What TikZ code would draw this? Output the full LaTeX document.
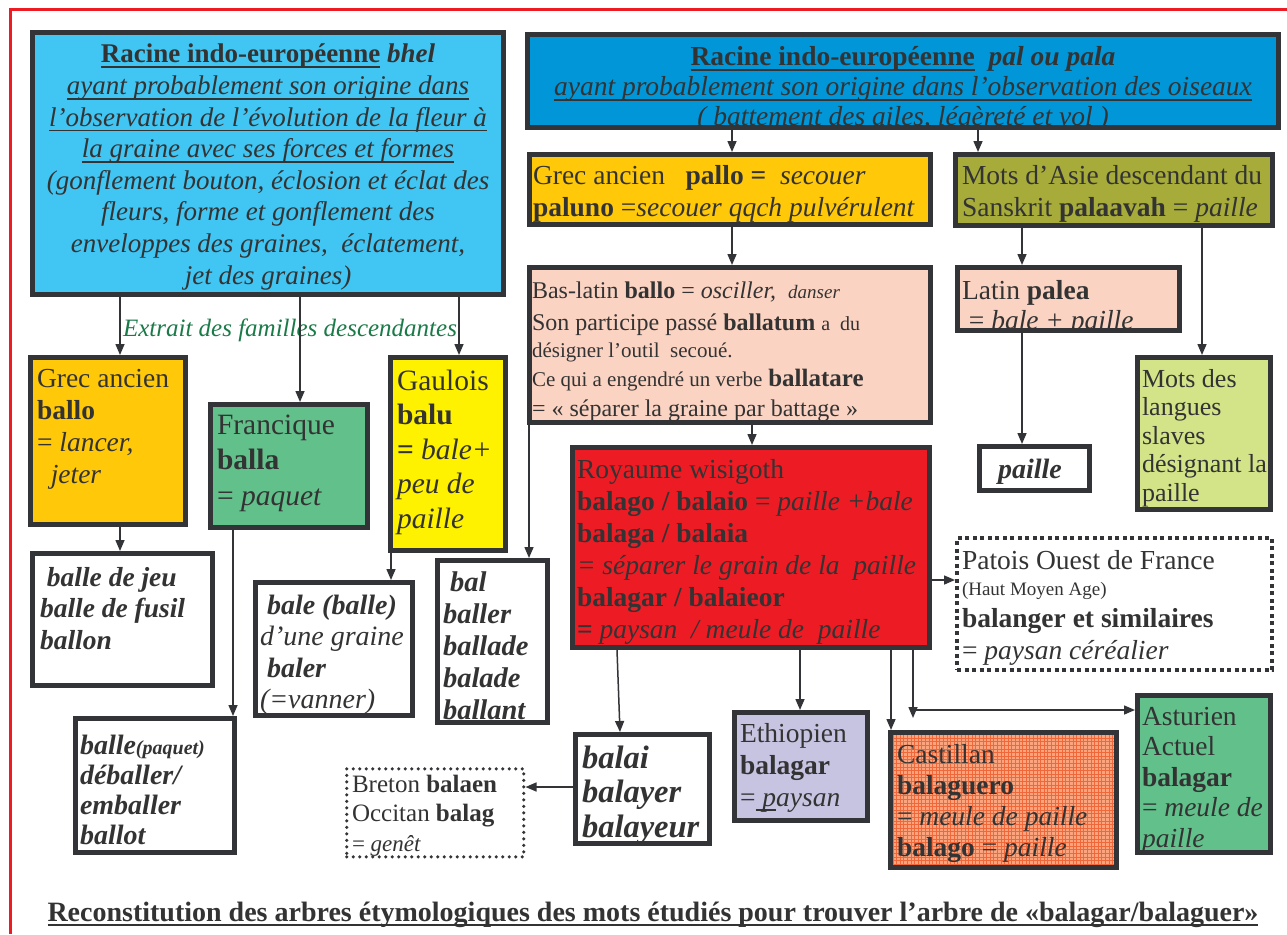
\documentclass[tikz,border=0pt]{standalone}
\usepackage{fontspec}
\setmainfont{Liberation Serif}
\usetikzlibrary{arrows.meta,calc}
\definecolor{framered}{HTML}{ED1C24}
\definecolor{bordc}{HTML}{333438}
\definecolor{txtc}{HTML}{333333}
\definecolor{cyanb}{HTML}{41C5F3}
\definecolor{blueb}{HTML}{0096D8}
\definecolor{orangeb}{HTML}{FFC90A}
\definecolor{oliveb}{HTML}{A6AB3A}
\definecolor{peachb}{HTML}{FBD3C2}
\definecolor{limeb}{HTML}{D3E388}
\definecolor{redb}{HTML}{ED1C24}
\definecolor{yellowb}{HTML}{FFF200}
\definecolor{greenb}{HTML}{62C08B}
\definecolor{lavb}{HTML}{C7C4E1}
\definecolor{castb}{HTML}{FBA47E}
\definecolor{castg}{HTML}{F0683A}
\definecolor{greent}{HTML}{1A7A48}
\newcommand\fs[2]{\fontsize{#1}{#2}\selectfont}
\newcommand\ul[1]{\leavevmode\setbox0\hbox{#1}\rlap{\rule[-5pt]{\wd0}{1.6pt}}\box0\relax}
\setlength\lineskiplimit{-100pt}
\tikzset{
  boxst/.style={draw=bordc,line width=5pt,anchor=north west,inner sep=0pt,outer sep=2.5pt},
  dotsq/.style={line width=4pt,dash pattern=on 4pt off 3.5pt},
  dotrd/.style={line width=3.5pt,line cap=round,dash pattern=on 0pt off 6.5pt},
  txtst/.style={inner sep=0pt,outer sep=0pt,text=txtc},
  arr/.style={draw=bordc,line width=1.5pt,-{Triangle[length=11pt,width=9pt]}}
}
% [extra style] name, fill, x1,y1,x2,y2 (outer edges)
\newcommand\bx[7][]{\node[boxst,fill=#3,#1,minimum width={#6-#4-5},minimum height={#7-#5-5}] (#2) at (#4,#5) {};}
\newcommand\tl[4]{\node[txtst,anchor=base west] (#1) at (#2,#3) {\begin{minipage}[t]{600pt}\raggedright #4\end{minipage}};}
\newcommand\tcn[5]{\node[txtst,anchor=base] (#1) at (#2,#3) {\begin{minipage}[t]{#4pt}\centering #5\end{minipage}};}
\begin{document}
\begin{tikzpicture}[x=1pt,y=-1pt]
\useasboundingbox[fill=white] (0,0) rectangle (1287,934);
\draw[framered,line width=3pt] (10,934) -- (10,10) -- (1287,10);

% ---------- boxes ----------
\bx{bhel}{cyanb}{30}{30}{506}{297}
\bx{pal}{blueb}{525}{32}{1281}{130}
\bx{pallo}{orangeb}{527}{152}{933}{227}
\bx{asie}{oliveb}{953}{152}{1275}{228}
\bx{baslat}{peachb}{527}{265}{933}{425}
\bx{latin}{peachb}{955}{265}{1182}{333}
\bx{slaves}{limeb}{1135}{355}{1273}{512}
\bx{paille}{white}{977}{444}{1092}{493}
\bx{roy}{redb}{570}{445}{932}{650}
\bx{grecb}{orangeb}{28}{355}{188}{527}
\bx{franc}{greenb}{208}{402}{370}{530}
\bx{gaul}{yellowb}{388}{355}{508}{553}
\bx{jeu}{white}{30}{551}{215}{688}
\bx{bale}{white}{253}{580}{415}{718}
\bx{bal}{white}{435}{558}{550}{725}
\bx{paquet}{white}{73}{716}{237}{855}
\bx{balai}{white}{573}{732}{712}{846}
\bx{ethio}{lavb}{732}{710}{870}{823}
\fill[castb] (890,732) rectangle (1117,868);
\begin{scope}
  \clip (890,732) rectangle (1117,868);
  \draw[castg,line width=0.6pt,step=3.6pt] (888,730) grid (1119,870);
\end{scope}
\bx{cast}{none}{888}{730}{1119}{870}
\bx{ast}{greenb}{1135}{693}{1273}{855}
\bx[dotsq,outer sep=2pt]{patois}{white}{955}{536}{1275}{673}
\bx[dotrd,outer sep=1.75pt]{breton}{white}{345}{767}{527}{860}

% ---------- texts ----------
\tcn{tbhel}{268}{63}{470}{\fs{27}{31.6}%
\textbf{\ul{Racine indo-européenne} \textit{bhel}}\\
\itshape\ul{ayant probablement son origine dans}\\
\ul{l’observation de l’évolution de la fleur à}\\
\ul{la graine avec ses forces et formes}\\
(gonflement bouton, éclosion et éclat des\\
fleurs, forme et gonflement des\\
enveloppes des graines,\ \ éclatement,\\
jet des graines)}

\begin{scope}
\clip (530,37) rectangle (1276,125);
\tcn{tpal}{903}{66}{750}{\fs{27.5}{30}%
\textbf{\ul{Racine indo-européenne}\ \ \textit{pal ou pala}}\\
\itshape\ul{ayant probablement son origine dans l’observation des oiseaux}\\
( battement des ailes, légèreté et vol )}
\end{scope}

\tl{tpallo}{533}{184}{\fs{27.5}{32}%
Grec ancien\ \ \ \textbf{pallo =}\ \ \textit{secouer}\\
\textbf{paluno} =\textit{secouer qqch pulvérulent}}

\tl{tasie}{962}{184}{\fs{27.5}{32}%
Mots d’Asie descendant du\\
Sanskrit \textbf{palaavah} = \textit{paille}}

\tl{tbaslat}{532}{298}{\fs{24}{30}%
Bas-latin \textbf{ballo} = \textit{osciller,}\ \ {\fs{19}{30}\textit{danser}}\\[2pt]
Son participe passé \textbf{ballatum} {\fs{20}{30}a\ \ du}\\[-3pt]
{\fs{21}{30}désigner l’outil\ \ secoué.}\\[-1pt]
{\fs{21}{30}Ce qui a engendré un verbe} {\fs{25}{30}\textbf{ballatare}}\\
= « séparer la graine par battage »}

\begin{scope}
\clip (960,270) rectangle (1177,328);
\tl{tlatin}{962}{299}{\fs{27.5}{30}%
Latin \textbf{palea}\\
\ = \textit{bale + paille}}
\end{scope}

\tl{tslaves}{1142}{387}{\fs{26}{28.5}%
Mots des\\langues\\slaves\\désignant la\\paille}

\tl{tpaille}{998}{478}{\fs{28}{30}\textbf{\textit{paille}}}

\tl{troy}{577}{478}{\fs{27.5}{32}%
Royaume wisigoth\\
\textbf{balago / balaio} = \textit{paille +bale}\\
\textbf{balaga / balaia}\\
\textit{= séparer le grain de la\ \ paille}\\
\textbf{balagar / balaieor}\\
\textbf{=} \textit{paysan\ \ / meule de\ \ paille}}

\tl{tpatois}{962}{569}{\fs{27.5}{32}%
Patois Ouest de France\\[-6pt]
{\fs{19}{32}(Haut Moyen Age)}\\
\textbf{balanger et similaires}\\
= \textit{paysan céréalier}}

\tl{tgrecb}{37}{387}{\fs{27.5}{32}%
Grec ancien\\\textbf{ballo}\\= \textit{lancer,}\\\ \ \textit{jeter}}

\tl{tfranc}{217}{434}{\fs{29.5}{35.5}%
Francique\\\textbf{balla}\\= \textit{paquet}}

\tl{tgaul}{397}{390}{\fs{29.5}{34.5}%
Gaulois\\\textbf{balu}\\\textbf{=} \textit{bale+}\\\textit{peu de}\\\textit{paille}}

\node[txtst,text=greent,anchor=base] (textrait) at (290,336) {\fs{25}{30}\textit{Extrait des familles descendantes}};

\tl{tjeu}{40}{586}{\fs{27.5}{31.5}\bfseries\itshape
\ balle de jeu\\balle de fusil\\ballon}

\tl{tbale}{260}{614}{\fs{28}{31.6}\itshape
\ \textbf{bale (balle)}\\d’une graine\\\ \textbf{baler}\\(=vanner)}

\tl{tbal}{443}{591}{\fs{28.5}{32}\bfseries\itshape
\ bal\\baller\\ballade\\balade\\ballant}

\tl{tpaquet}{80}{754}{\fs{28}{30}\bfseries\itshape
balle{\fs{20}{30}(paquet)}\\déballer/\\emballer\\ballot}

\tl{tbalai}{582}{768}{\fs{32.5}{34.5}\bfseries\itshape
balai\\balayer\\balayeur}

\tl{tbreton}{352}{792}{\fs{25}{29.5}%
Breton \textbf{balaen}\\Occitan \textbf{balag}\\{\fs{23}{29.5}= \textit{genêt}}}

\tl{tethio}{740}{742}{\fs{27.5}{32}%
Ethiopien\\\textbf{balagar}\\=\ul{\ \textit{p}}\textit{aysan}}

\tl{tcast}{897}{763}{\fs{27.5}{31.3}%
Castillan\\\textbf{balaguero}\\= \textit{meule de paille}\\\textbf{balago} = \textit{paille}}

\tl{tast}{1142}{725}{\fs{27.5}{30.5}%
Asturien\\Actuel\\\textbf{balagar}\\= \textit{meule de}\\\textit{paille}}

\tcn{tcaption}{653}{921}{1260}{\fs{28}{30}%
\textbf{\ul{Reconstitution des arbres étymologiques des mots étudiés pour trouver l’arbre de «balagar/balaguer»}}}

% ---------- connectors ----------
\draw[arr] (bhel.south -| 120,0) -- (grecb.north -| 120,0);
\draw[arr] (bhel.south -| 300,0) -- (franc.north -| 300,0);
\draw[arr] (bhel.south -| 459,0) -- (gaul.north -| 459,0);
\draw[arr] (pal.south -| 732,0) -- (pallo.north -| 732,0);
\draw[arr] (pal.south -| 978,0) -- (asie.north -| 978,0);
\draw[arr] (pallo.south -| 732,0) -- (baslat.north -| 732,0);
\draw[arr] (asie.south -| 1022,0) -- (latin.north -| 1022,0);
\draw[arr] (asie.south -| 1202,0) -- (slaves.north -| 1202,0);
\draw[arr] (latin.south -| 1022,0) -- (paille.north -| 1022,0);
\draw[arr] (baslat.south -| 752,0) -- (roy.north -| 752,0);
\draw[arr] (baslat.south -| 529,0) -- (bal.north -| 529,0);
\draw[arr] (grecb.south -| 120,0) -- (jeu.north -| 120,0);
\draw[arr] (franc.south -| 233,0) -- (paquet.north -| 233,0);
\draw[arr] (gaul.south -| 391,0) -- (bale.north -| 391,0);
\draw[arr] (roy.east |- 0,580) -- (patois.west |- 0,580);
\draw[arr] (roy.south -| 617,0) -- (balai.north -| 620,0);
\draw[arr] (roy.south -| 800,0) -- (ethio.north -| 800,0);
\draw[arr] (roy.south -| 891,0) -- (cast.north -| 891,0);
\coordinate (junc) at (913,710);
\draw[arr] (roy.south -| junc) -- ($(junc)+(0,8)$);
\draw[arr] (junc) -- (ast.west |- junc);
\draw[arr] (balai.west |- 0,787) -- (breton.east |- 0,787);
\end{tikzpicture}
\end{document}
